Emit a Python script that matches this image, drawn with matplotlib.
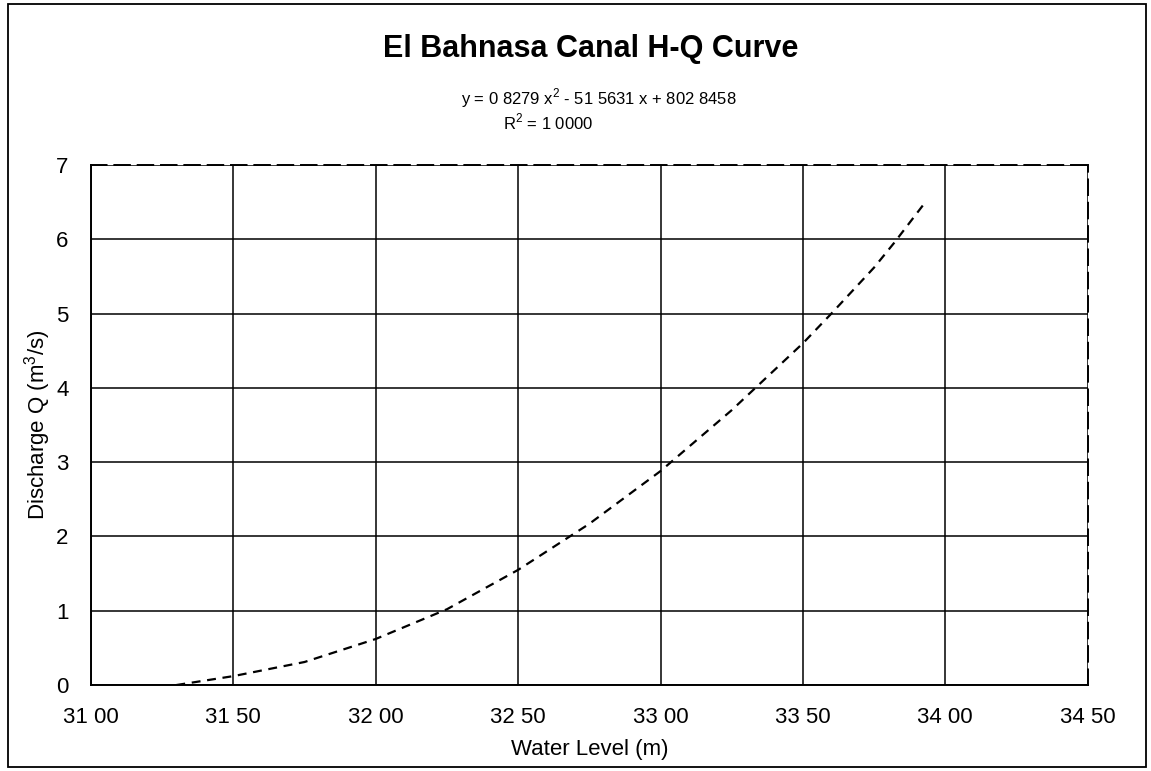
import numpy as np
import matplotlib
matplotlib.use('Agg')
import matplotlib.pyplot as plt
from matplotlib.patches import Rectangle

# values
water_level = [31.30, 31.50, 31.75, 32.00, 32.25, 32.50, 32.75, 33.00, 33.25, 33.50, 33.60, 33.75, 33.82, 33.93]
discharge = [0.00, 0.12, 0.31, 0.62, 1.02, 1.55, 2.17, 2.88, 3.70, 4.60, 5.00, 5.62, 5.95, 6.50]

x_ticks = [31.0, 31.5, 32.0, 32.5, 33.0, 33.5, 34.0, 34.5]
x_tick_labels = ['31 00', '31 50', '32 00', '32 50', '33 00', '33 50', '34 00', '34 50']
y_ticks = [0, 1, 2, 3, 4, 5, 6, 7]

title = 'El Bahnasa Canal H-Q Curve'
equation = 'y = 0 8279 x$^2$ - 51 5631 x + 802 8458'
r_squared = 'R$^2$ = 1 0000'

plt.rcParams['font.family'] = ['Liberation Sans', 'DejaVu Sans']
plt.rcParams['mathtext.fontset'] = 'custom'
plt.rcParams['mathtext.rm'] = 'Liberation Sans'


def hq_plot():
    fig = plt.figure(figsize=(11.51, 7.71), dpi=100)
    ax = fig.add_axes([0.079, 0.1115, 0.866, 0.6745])

    ax.plot(water_level, discharge, color='black', lw=1.6, ls=(0, (4, 3)))

    ax.set_xlim(31.0, 34.5)
    ax.set_ylim(0, 7)
    ax.set_xticks(x_ticks, x_tick_labels)
    ax.set_yticks(y_ticks)
    ax.tick_params(length=0, labelsize=16)
    ax.tick_params(axis='x', pad=16)
    ax.tick_params(axis='y', pad=16)
    ax.grid(True, color='black', lw=1.1)
    for s in ax.spines.values():
        s.set_linewidth(1.4)
    ax.spines['top'].set_linestyle((0, (8, 4)))
    ax.spines['right'].set_linestyle((0, (8, 4)))

    ax.set_xlabel('Water Level (m)', fontsize=16, labelpad=8)
    ax.set_ylabel('Discharge Q (m$^3$/s)', fontsize=16, labelpad=2)

    fig.text(0.513, 0.937, title, ha='center', va='center', fontsize=22,
             fontweight='bold')
    fig.text(0.520, 0.873, equation, ha='center', va='center', fontsize=12)
    fig.text(0.476, 0.841, r_squared, ha='center', va='center', fontsize=12)

    fig.patches.append(Rectangle((0.007, 0.005), 0.989, 0.990, transform=fig.transFigure,
                                 fill=False, edgecolor='black', lw=1.3))
    fig.savefig('out.png', dpi=100)


if __name__ == '__main__':
    hq_plot()
